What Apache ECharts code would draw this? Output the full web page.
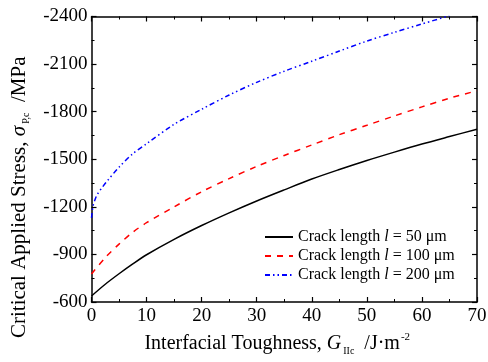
<!DOCTYPE html>
<html>
<head>
<meta charset="utf-8">
<script src="https://cdn.jsdelivr.net/npm/echarts@6/dist/echarts.min.js"></script>
<style>html,body{margin:0;padding:0;background:#fff}#c{width:488px;height:362px}</style>
</head>
<body>
<div id="c"></div>
<script>
// Data
var xTicks = [0, 10, 20, 30, 40, 50, 60, 70];
var yTicks = [-600, -900, -1200, -1500, -1800, -2100, -2400];
var seriesNames = ['Crack length l = 50 μm', 'Crack length l = 100 μm', 'Crack length l = 200 μm'];
var lengthLabels = ['50', '100', '200'];

var gBlack = [0, 2.5, 5, 7.5, 10, 15, 20, 25, 30, 35, 40, 45, 50, 55, 60, 65, 70];
var sBlack = [-638, -712, -778, -840, -898, -995, -1082, -1162, -1237, -1307, -1375, -1435, -1492, -1545, -1596, -1643, -1689];

var gRed = [0, 2.5, 5, 7.5, 10, 15, 20, 25, 30, 35, 40, 45, 50, 55, 60, 65, 70];
var sRed = [-777, -880, -965, -1040, -1100, -1200, -1295, -1378, -1455, -1524, -1590, -1655, -1714, -1773, -1830, -1885, -1932];

var gBlue = [0, 0.25, 0.5, 1, 2, 3, 5, 7.5, 10, 15, 20, 25, 30, 35, 40, 45, 50, 55, 60, 65];
var sBlue = [-1130, -1200, -1232, -1275, -1325, -1369, -1450, -1535, -1598, -1720, -1815, -1905, -1985, -2055, -2118, -2182, -2245, -2300, -2353, -2405];

function pairs(xs, ys) { return xs.map(function (x, i) { return [x, ys[i]]; }); }

var FONT = 'Liberation Serif';
var chart = echarts.init(document.getElementById('c'));
var axisCommon = {
  axisLine: { show: true, onZero: false, lineStyle: { color: '#000', width: 1.5 } },
  axisTick: { show: true, inside: true, length: 5, lineStyle: { color: '#000', width: 1.2 } },
  minorTick: { show: true, splitNumber: 2, length: 3, lineStyle: { color: '#000', width: 1 } },
  splitLine: { show: false }
};
function ax(extra) { return Object.assign({}, JSON.parse(JSON.stringify(axisCommon)), extra); }
function plain(v) { return String(v); }

chart.setOption({
  animation: false,
  backgroundColor: '#fff',
  grid: { left: 91.5, right: 11, top: 16.5, bottom: 60, containLabel: false, outerBoundsMode: 'none' },
  xAxis: [
    ax({
      type: 'value', min: xTicks[0], max: xTicks[xTicks.length - 1], interval: 10, position: 'bottom',
      axisLabel: { color: '#000', fontFamily: FONT, fontSize: 19, margin: 5, formatter: plain },
      name: '{t|Interfacial Toughness, }{i|G}{sub|IIc}{t|  /J·m}{sup|-2}',
      nameLocation: 'middle', nameGap: 29, nameMoveOverlap: false,
      nameTextStyle: {
        color: '#000', fontFamily: FONT, fontSize: 20, padding: [0, 14, 0, 0],
        rich: {
          t: { fontFamily: FONT, fontSize: 20, color: '#000' },
          i: { fontFamily: FONT, fontSize: 20, fontStyle: 'italic', color: '#000' },
          sub: { fontFamily: FONT, fontSize: 10, color: '#000', padding: [15, 0, 0, 2] },
          sup: { fontFamily: FONT, fontSize: 11, color: '#000', padding: [0, 0, 12, 1] }
        }
      }
    }),
    ax({
      type: 'value', min: xTicks[0], max: xTicks[xTicks.length - 1], interval: 10, position: 'top',
      axisLabel: { show: false }
    })
  ],
  yAxis: [
    ax({
      type: 'value', inverse: true, min: yTicks[yTicks.length - 1], max: yTicks[0], interval: 300, position: 'left',
      axisLabel: { color: '#000', fontFamily: FONT, fontSize: 19, margin: 4, formatter: plain },
      name: '{t|Critical Applied Stress, }{i|σ}{sub|P,c}{t|  /MPa}',
      nameLocation: 'middle', nameGap: 60, nameMoveOverlap: false,
      nameTextStyle: {
        color: '#000', fontFamily: FONT, fontSize: 21, padding: [0, 76, 0, 0],
        rich: {
          t: { fontFamily: FONT, fontSize: 21, color: '#000' },
          i: { fontFamily: FONT, fontSize: 21, fontStyle: 'italic', color: '#000' },
          sub: { fontFamily: FONT, fontSize: 10, color: '#000', padding: [15, 0, 0, 2] }
        }
      }
    }),
    ax({
      type: 'value', inverse: true, min: yTicks[yTicks.length - 1], max: yTicks[0], interval: 300, position: 'right',
      axisLabel: { show: false }
    })
  ],
  legend: {
    orient: 'vertical', left: 259, top: 224,
    itemWidth: 28, itemHeight: 12, itemGap: 3,
    data: seriesNames,
    itemStyle: { opacity: 0 },
    formatter: function (name) {
      var k = seriesNames.indexOf(name);
      return '{t|Crack length }{i|l}{t| = ' + lengthLabels[k] + ' μm}';
    },
    textStyle: {
      color: '#000', fontFamily: FONT, fontSize: 16,
      rich: {
        t: { fontFamily: FONT, fontSize: 16, color: '#000' },
        i: { fontFamily: FONT, fontSize: 16, fontStyle: 'italic', color: '#000' }
      }
    }
  },
  series: [
    { name: seriesNames[0], type: 'line', data: pairs(gBlack, sBlack), symbol: 'none', smooth: 0.3, clip: true,
      lineStyle: { color: '#000', width: 1.5, type: 'solid' }, itemStyle: { color: '#000' } },
    { name: seriesNames[1], type: 'line', data: pairs(gRed, sRed), symbol: 'none', smooth: 0.3, clip: true,
      lineStyle: { color: '#ff0000', width: 1.5, type: [6, 6] }, itemStyle: { color: '#ff0000' } },
    { name: seriesNames[2], type: 'line', data: pairs(gBlue, sBlue), symbol: 'none', smooth: 0.3, clip: true,
      lineStyle: { color: '#0000ff', width: 1.5, type: [5, 3, 1.5, 3, 1.5, 3] }, itemStyle: { color: '#0000ff' } }
  ]
});
</script>
</body>
</html>
